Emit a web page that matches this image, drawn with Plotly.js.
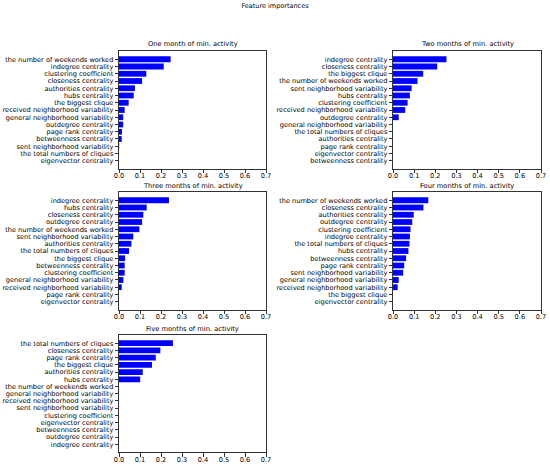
<!DOCTYPE html>
<html>
<head>
<meta charset="utf-8">
<script src="https://cdn.plot.ly/plotly-3.0.1.min.js"></script>
<style>
  html, body { margin: 0; padding: 0; background: #fff; }
  #chart { width: 550px; height: 466px; }
</style>
</head>
<body>
<div id="chart"></div>
<script>
// feature importances
const titles = [
  "One month of min. activity",
  "Two months of min. activity",
  "Three months of min. activity",
  "Four months of min. activity",
  "Five months of min. activity",
];

const labels1 = [
  "the number of weekends worked", "indegree centrality", "clustering coefficient",
  "closeness centrality", "authorities centrality", "hubs centrality", "the biggest clique",
  "received neighborhood variability", "general neighborhood variability", "outdegree centrality",
  "page rank centrality", "betweenness centrality", "sent neighborhood variability",
  "the total numbers of cliques", "eigenvector centrality",
];
const values1 = [0.246, 0.213, 0.130, 0.110, 0.076, 0.070, 0.046, 0.027, 0.020, 0.020, 0.014, 0.013, 0.001, 0, 0];

const labels2 = [
  "indegree centrality", "closeness centrality", "the biggest clique",
  "the number of weekends worked", "sent neighborhood variability", "hubs centrality",
  "clustering coefficient", "received neighborhood variability", "outdegree centrality",
  "general neighborhood variability", "the total numbers of cliques", "authorities centrality",
  "page rank centrality", "eigenvector centrality", "betweenness centrality",
];
const values2 = [0.253, 0.209, 0.143, 0.116, 0.088, 0.080, 0.069, 0.058, 0.027, 0, 0, 0, 0, 0, 0];

const labels3 = [
  "indegree centrality", "hubs centrality", "closeness centrality", "outdegree centrality",
  "the number of weekends worked", "sent neighborhood variability", "authorities centrality",
  "the total numbers of cliques", "the biggest clique", "betweenness centrality",
  "clustering coefficient", "general neighborhood variability", "received neighborhood variability",
  "page rank centrality", "eigenvector centrality",
];
const values3 = [0.238, 0.132, 0.116, 0.110, 0.097, 0.068, 0.059, 0.048, 0.029, 0.027, 0.027, 0.021, 0.013, 0, 0];

const labels4 = [
  "the number of weekends worked", "closeness centrality", "authorities centrality",
  "outdegree centrality", "clustering coefficient", "indegree centrality",
  "the total numbers of cliques", "hubs centrality", "betweenness centrality",
  "page rank centrality", "sent neighborhood variability", "general neighborhood variability",
  "received neighborhood variability", "the biggest clique", "eigenvector centrality",
];
const values4 = [0.167, 0.144, 0.098, 0.091, 0.083, 0.080, 0.078, 0.073, 0.062, 0.053, 0.048, 0.027, 0.022, 0, 0];

const labels5 = [
  "the total numbers of cliques", "closeness centrality", "page rank centrality",
  "the biggest clique", "authorities centrality", "hubs centrality",
  "the number of weekends worked", "general neighborhood variability",
  "received neighborhood variability", "sent neighborhood variability", "clustering coefficient",
  "eigenvector centrality", "betweenness centrality", "outdegree centrality", "indegree centrality",
];
const values5 = [0.257, 0.197, 0.175, 0.157, 0.113, 0.101, 0, 0, 0, 0, 0, 0, 0, 0, 0];

const xTicks = [0, 0.1, 0.2, 0.3, 0.4, 0.5, 0.6, 0.7];

const W = 550, H = 466;
// panel boxes in pixels: [left, right, top, bottom]
const boxes = [
  [119, 266, 51, 169],
  [393, 541, 51, 169],
  [119, 266, 192, 310],
  [393, 541, 192, 310],
  [119, 266, 335, 452.5],
];

const allLabels = [labels1, labels2, labels3, labels4, labels5];
const allValues = [values1, values2, values3, values4, values5];

const font = { family: "DejaVu Sans", size: 6.6, color: "#000" };
const traces = [];
const layout = {
  width: W,
  height: H,
  margin: { l: 0, r: 0, t: 0, b: 0 },
  paper_bgcolor: "#fff",
  plot_bgcolor: "#fff",
  showlegend: false,
  bargap: 0.2,
  font: font,
  title: {
    text: "Feature importances",
    font: { family: "DejaVu Sans", size: 6.5, color: "#000" },
    x: 0.5,
    xanchor: "center",
    y: 1 - 5.5 / H,
    yanchor: "middle",
  },
  annotations: [],
};

allLabels.forEach((labs, i) => {
  const n = i === 0 ? "" : String(i + 1);
  const b = boxes[i];
  traces.push({
    type: "bar",
    orientation: "h",
    x: allValues[i],
    y: labs,
    xaxis: "x" + n,
    yaxis: "y" + n,
    marker: { color: "#0000ff", line: { width: 0 } },
    hoverinfo: "skip",
  });
  layout["xaxis" + n] = {
    domain: [b[0] / W, b[1] / W],
    anchor: "y" + n,
    range: [0, 0.7],
    tickmode: "array",
    tickvals: xTicks,
    tickformat: ".1f",
    ticks: "outside",
    ticklen: 3.5,
    tickwidth: 0.8,
    tickcolor: "#000",
    ticklabelstandoff: -3,
    showline: true,
    mirror: true,
    linecolor: "#000",
    linewidth: 0.8,
    showgrid: false,
    zeroline: false,
    tickfont: font,
  };
  layout["yaxis" + n] = {
    domain: [1 - b[3] / H, 1 - b[2] / H],
    anchor: "x" + n,
    type: "category",
    categoryorder: "array",
    categoryarray: labs,
    tickmode: "array",
    tickvals: labs,
    ticktext: labs,
    range: [labs.length - 1 + 1.14, -1.14],
    ticks: "outside",
    ticklen: 3.5,
    tickwidth: 0.8,
    tickcolor: "#000",
    showline: true,
    mirror: true,
    linecolor: "#000",
    linewidth: 0.8,
    showgrid: false,
    zeroline: false,
    tickfont: font,
  };
  layout.annotations.push({
    text: titles[i],
    xref: "paper",
    yref: "paper",
    x: (b[0] + b[1]) / 2 / W,
    y: 1 - (b[2] - 6.5) / H,
    xanchor: "center",
    yanchor: "middle",
    showarrow: false,
    font: { family: "DejaVu Sans", size: 6.7, color: "#000" },
  });
});

Plotly.newPlot("chart", traces, layout, { displayModeBar: false, staticPlot: true });
</script>
</body>
</html>
